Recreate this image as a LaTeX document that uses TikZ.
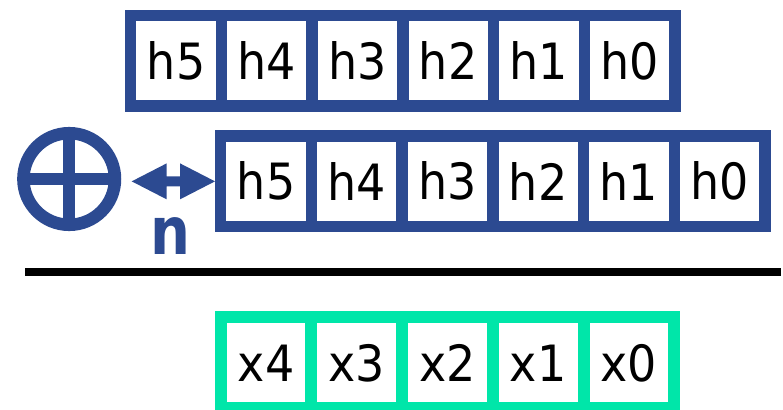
\documentclass[tikz,border=0pt]{standalone}
\usepackage{fontspec}
\newfontfamily\cellfont[FakeStretch=0.92]{DejaVu Sans}
\newfontfamily\nfont[FakeStretch=0.85]{DejaVu Sans}
\usetikzlibrary{calc}
\definecolor{rblue}{RGB}{44,74,145}
\definecolor{rgreen}{RGB}{0,230,169}
\tikzset{
  cell/.style={draw, line width=11.4pt, minimum width=90.7pt, minimum height=90.7pt,
    inner sep=0pt, text=black, font=\cellfont\fontsize{50}{50}\selectfont},
  hcell/.style={cell, draw=rblue},
  xcell/.style={cell, draw=rgreen, line width=12pt},
  ring/.style={draw=rblue, line width=12.5pt}
}
\begin{document}
\begin{tikzpicture}[x=1pt, y=-1pt]
\useasboundingbox (0,0) rectangle (783,409);
% top row
\foreach \i/\t in {0/h5,1/h4,2/h3,3/h2,4/h1,5/h0}
  \node[hcell] (t\i) at ({176.05+\i*90.7},60.65) {\t};
% middle row
\foreach \i/\t in {0/h5,1/h4,2/h3,3/h2,4/h1,5/h0}
  \node[hcell] (m\i) at ({266.05+\i*90.7},181.35) {\t};
% bottom row
\foreach \i/\t in {0/x4,1/x3,2/x2,3/x1,4/x0}
  \node[xcell] (b\i) at ({266.05+\i*90.7},362.8) {\t};
% oplus
\coordinate (ox) at (69.2,179);
\draw[ring] (ox) circle[radius=45.8pt];
\draw[rblue, line width=12.5pt] ($(ox)+(0,-46)$) -- ($(ox)+(0,46)$)
  ($(ox)+(-46,0)$) -- ($(ox)+(46,0)$);
% double arrow between the oplus and the middle register
\coordinate (al) at ($(ox)+(62.5,2.35)$);
\coordinate (ar) at (m0.west);
\fill[rblue] (al) -- ($(al)+(35,-18)$) -- ($(al)+(35,-5)$) -- ($(ar)+(-35,-5)$)
  -- ($(ar)+(-35,-18)$) -- (ar) -- ($(ar)+(-35,18)$) -- ($(ar)+(-35,5)$)
  -- ($(al)+(35,5)$) -- ($(al)+(35,18)$) -- cycle;
\node[text=rblue, font=\nfont\bfseries\fontsize{66}{66}\selectfont, inner sep=0pt] (n) at (170,236.5) {n};
% rule
\coordinate (rl) at (25,272.3);
\coordinate (rr) at (781,272.3);
\draw[line width=8pt] (rl) -- (rr);
\end{tikzpicture}
\end{document}
